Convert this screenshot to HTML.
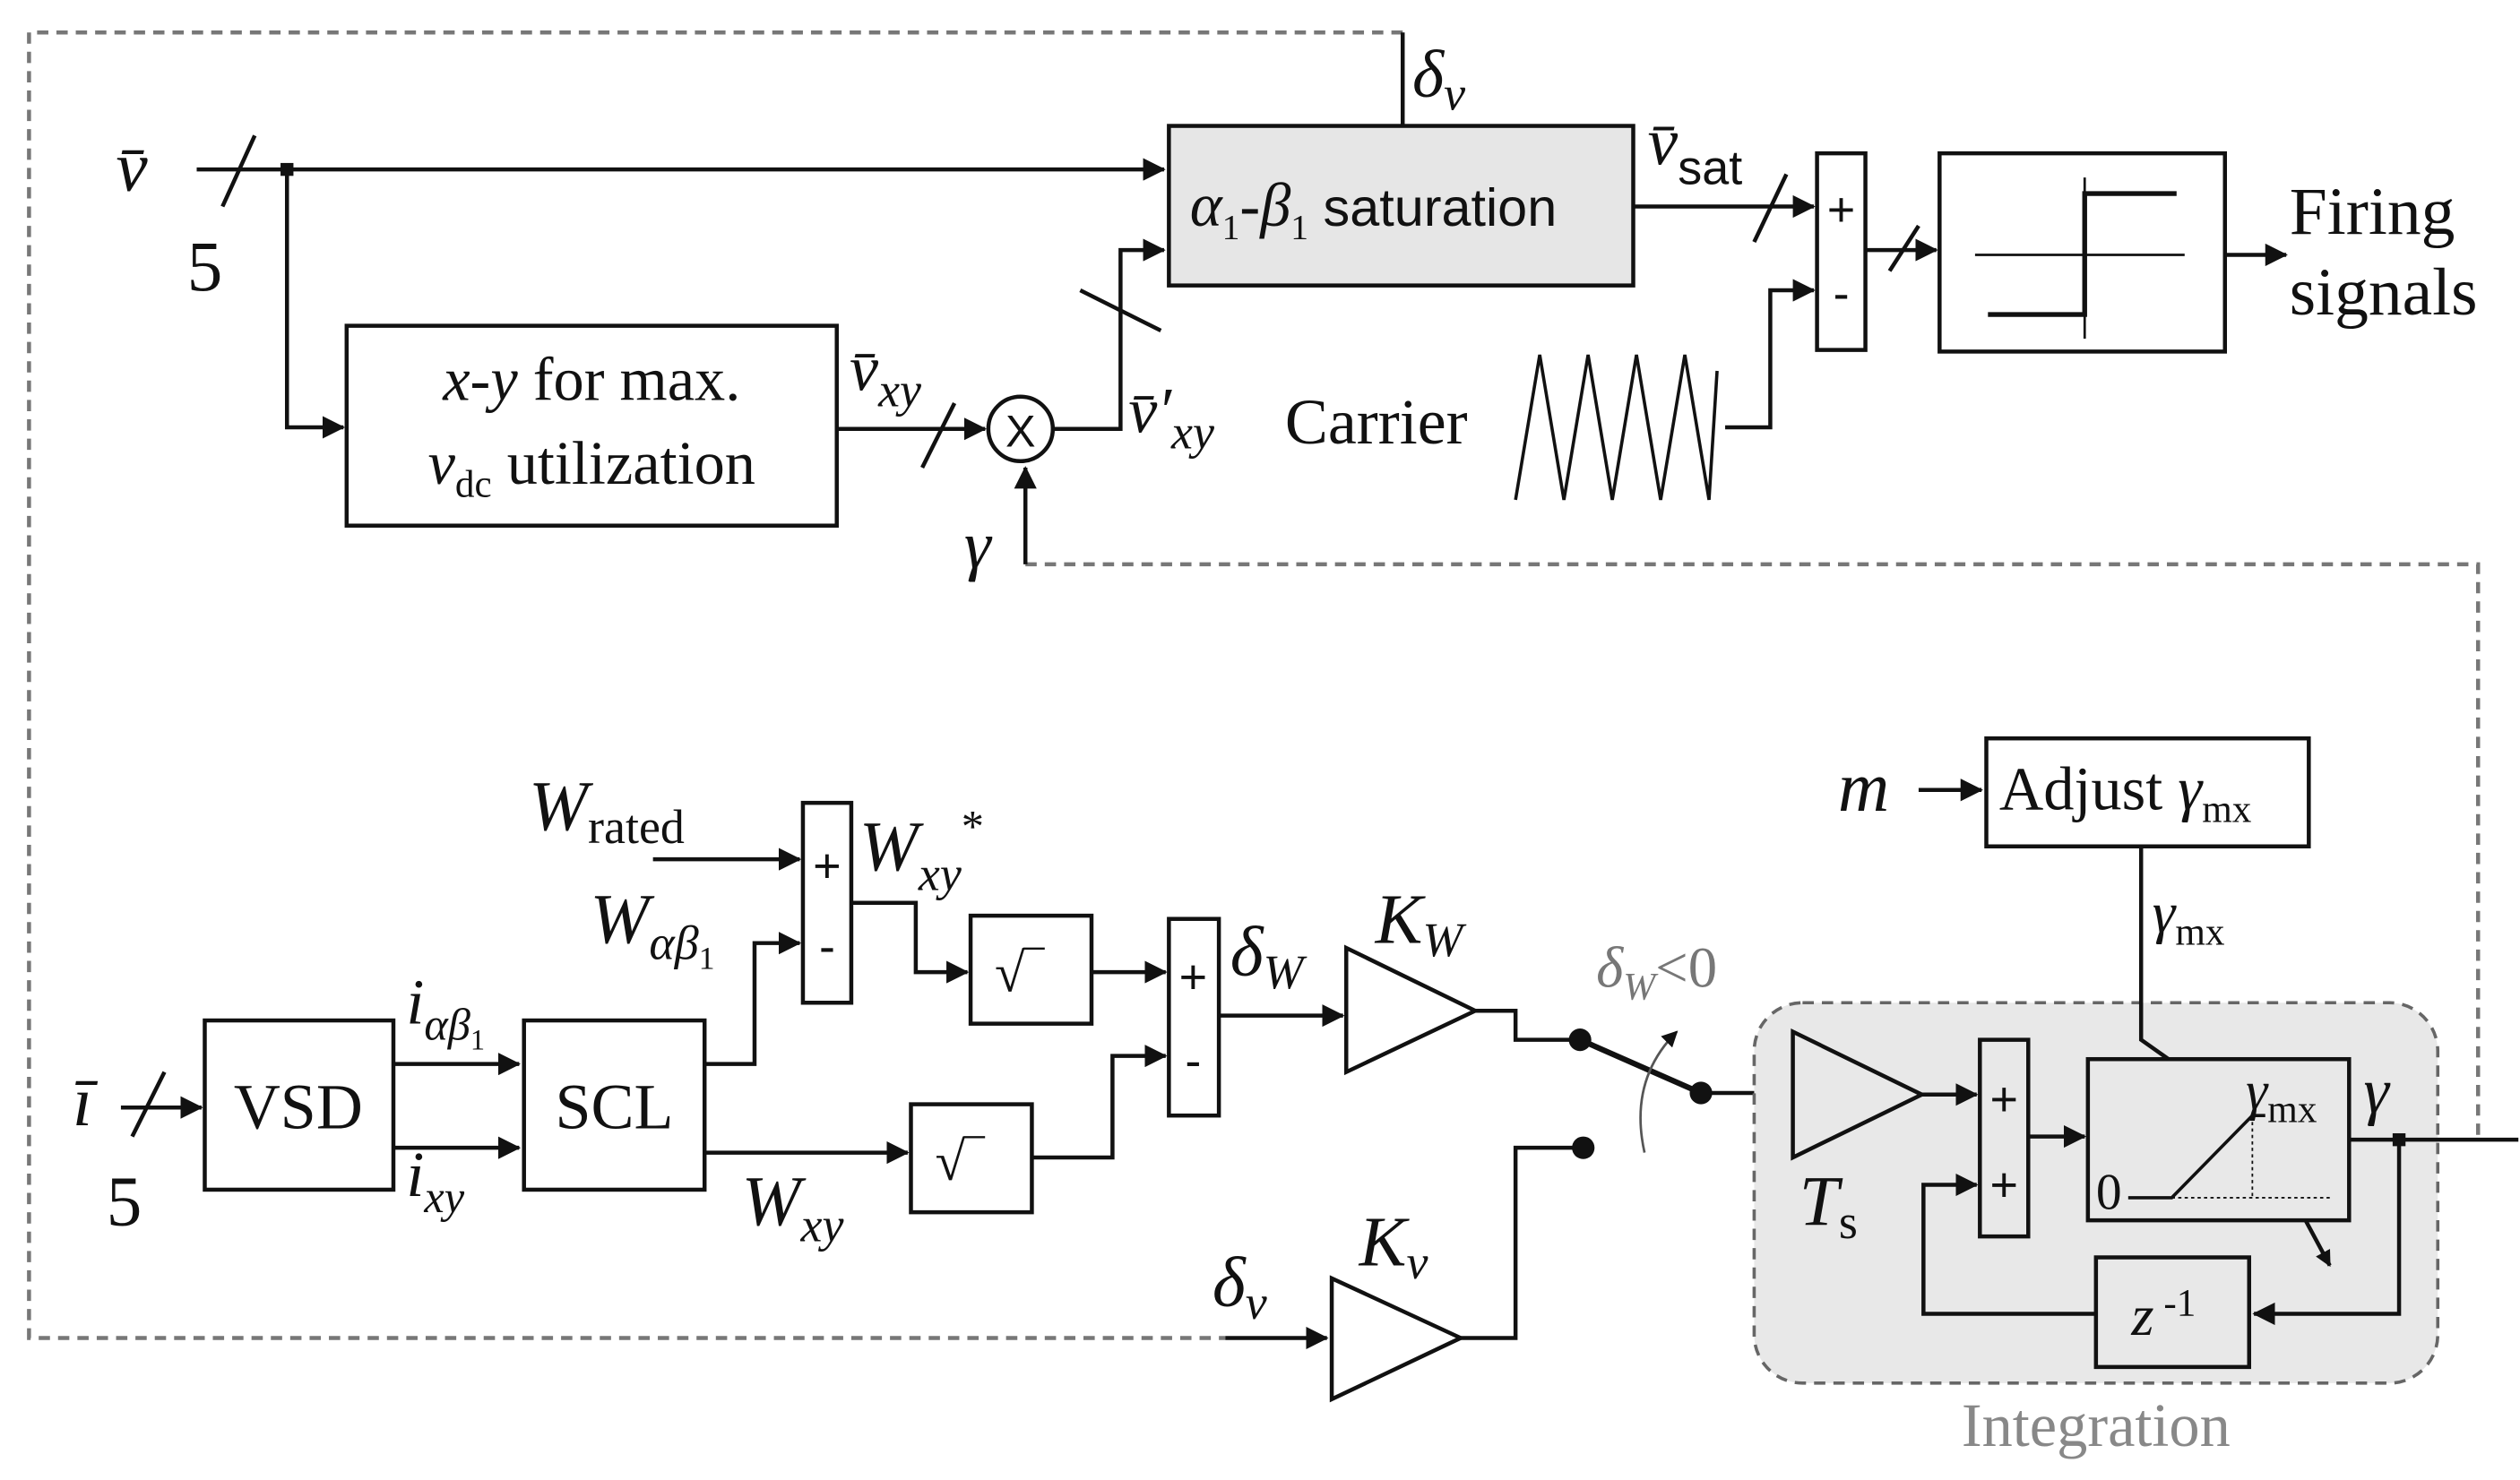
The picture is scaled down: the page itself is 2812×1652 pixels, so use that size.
<!DOCTYPE html>
<html><head><meta charset="utf-8"><style>
html,body{margin:0;padding:0;background:#fff}
svg{display:block}
text{font-family:"Liberation Serif",serif;fill:#111}
.s{font-family:"Liberation Sans",sans-serif}
.i{font-style:italic}
</style></head><body>
<svg width="2812" height="1652" viewBox="0 0 1563 918" xmlns="http://www.w3.org/2000/svg">
<defs>
<marker id="a" markerWidth="10" markerHeight="10" refX="9" refY="5" orient="auto" markerUnits="userSpaceOnUse"><path d="M0,0 L10,5 L0,10 z" fill="#111"/></marker>
<marker id="a2" markerWidth="14" markerHeight="14" refX="13" refY="7" orient="auto" markerUnits="userSpaceOnUse"><path d="M0,0 L14,7 L0,14 z" fill="#111"/></marker>
</defs>
<g stroke="#111" stroke-width="2.5" fill="none">
<path d="M870,20 H18 V830 H760" stroke="#777" stroke-dasharray="7,5"/>
<path d="M636,350 H1537 V705" stroke="#777" stroke-dasharray="7,5"/>
<path d="M870,20 V78"/>
<path d="M122,105 H722" marker-end="url(#a2)"/>
<path d="M138,128 L158,84"/>
<path d="M178,105 V265 H213" marker-end="url(#a2)"/>
<rect x="215" y="202" width="304" height="124"/>
<path d="M519,266 H611" marker-end="url(#a2)"/>
<path d="M572,290 L592,250"/>
<circle cx="633" cy="266" r="20"/>
<path d="M653,266 H695 V155 H722" marker-end="url(#a2)"/>
<path d="M670,180 L720,205"/>
<path d="M636,350 V290" marker-end="url(#a2)"/>
<rect x="725" y="78" width="288" height="99" fill="#e6e6e6"/>
<path d="M1013,128 H1125" marker-end="url(#a2)"/>
<path d="M1088,150 L1108,108"/>
<rect x="1127" y="95" width="30" height="122"/>
<path d="M940,310 L955,220 L970,310 L985,220 L1000,310 L1015,220 L1030,310 L1045,220 L1060,310 L1065,230" stroke-width="2"/>
<path d="M1070,265 H1098 V180 H1125" marker-end="url(#a2)"/>
<path d="M1157,155 H1201" marker-end="url(#a2)"/>
<path d="M1172,168 L1190,140"/>
<rect x="1203" y="95" width="177" height="123"/>
<path d="M1225,158 H1355 M1293,110 V210" stroke-width="1.5"/>
<path d="M1233,195 H1293 V120 H1350" stroke-width="3"/>
<path d="M1380,158 H1418" marker-end="url(#a2)"/>
<path d="M75,687 H125" marker-end="url(#a2)"/>
<path d="M82,705 L102,665"/>
<rect x="127" y="633" width="117" height="105"/>
<path d="M244,660 H322" marker-end="url(#a2)"/>
<path d="M244,712 H322" marker-end="url(#a2)"/>
<rect x="325" y="633" width="112" height="105"/>
<path d="M405,533 H496" marker-end="url(#a2)"/>
<path d="M437,660 H468 V585 H496" marker-end="url(#a2)"/>
<rect x="498" y="498" width="30" height="124"/>
<path d="M528,560 H568 V603 H600" marker-end="url(#a2)"/>
<rect x="602" y="568" width="75" height="67"/>
<path d="M677,603 H723" marker-end="url(#a2)"/>
<rect x="725" y="570" width="31" height="122"/>
<path d="M437,715 H563" marker-end="url(#a2)"/>
<rect x="565" y="685" width="75" height="67"/>
<path d="M640,718 H690 V655 H723" marker-end="url(#a2)"/>
<path d="M756,630 H833" marker-end="url(#a2)"/>
<path d="M835,588 L835,665 L915,627 Z"/>
<path d="M915,627 H940 V645 H980"/>
<path d="M980,645 L1055,678" stroke-width="3.5"/>
<path d="M1055,678 H1110" marker-end="url(#a2)"/>
<rect x="1088" y="622" width="424" height="236" rx="30" fill="#e8e8e8" stroke="#666" stroke-dasharray="7,5" stroke-width="2"/>
<path d="M1020,715 Q1010,670 1040,640" stroke="#555" stroke-width="1.5" marker-end="url(#a)"/>
<path d="M1112,640 L1112,718 L1192,679 Z"/>
<path d="M1192,679 H1226" marker-end="url(#a2)"/>
<rect x="1228" y="645" width="30" height="122"/>
<path d="M1258,705 H1293" marker-end="url(#a2)"/>
<rect x="1295" y="657" width="162" height="100"/>
<path d="M1320,743 H1347 L1397,692 H1405" stroke-width="2"/>
<path d="M1347,743 H1445 M1397,692 V743" stroke-width="1" stroke-dasharray="2,2"/>
<rect x="1232" y="458" width="200" height="67"/>
<path d="M1190,490 H1229" marker-end="url(#a2)"/>
<path d="M1328,525 V645 L1345,657"/>
<path d="M1430,757 L1445,785" marker-end="url(#a)"/>
<path d="M1457,707 H1562"/>
<path d="M1488,707 V815 H1398" marker-end="url(#a2)"/>
<rect x="1300" y="780" width="95" height="68"/>
<path d="M1300,815 H1193 V735 H1226" marker-end="url(#a2)"/>
<path d="M760,830 H823" marker-end="url(#a2)"/>
<path d="M826,793 L826,868 L906,830 Z"/>
<path d="M906,830 H940 V712 H982"/>
</g>
<g fill="#111">
<rect x="174" y="101" width="8" height="8"/>
<rect x="1484" y="703" width="8" height="8"/>
<circle cx="980" cy="645" r="7"/><circle cx="1055" cy="678" r="7"/><circle cx="982" cy="712" r="7"/>
</g>
<text x="72" y="118" font-size="44" class="i">v̄</text>
<text x="116" y="180" font-size="44">5</text>
<text x="876" y="60" font-size="42" class="i">δ<tspan font-size="30" dy="8">v</tspan></text>
<text x="367" y="248" font-size="38" text-anchor="middle"><tspan class="i">x</tspan>-<tspan class="i">y</tspan> for max.</text>
<text x="367" y="300" font-size="38" text-anchor="middle"><tspan class="i">v</tspan><tspan font-size="24" dy="8">dc</tspan><tspan dy="-8"> utilization</tspan></text>
<text x="527" y="242" font-size="40" class="i">v̄<tspan font-size="30" dy="10">xy</tspan></text>
<text x="633" y="277" font-size="28" class="s" text-anchor="middle">X</text>
<text x="700" y="268" font-size="40" class="i">v̄′<tspan font-size="30" dy="10">xy</tspan></text>
<text x="598" y="352" font-size="42" class="i">γ</text>
<text x="738" y="140" font-size="38" class="i">α<tspan font-size="22" dy="8" font-style="normal">1</tspan><tspan dy="-8" font-style="normal">-</tspan>β<tspan font-size="22" dy="8" font-style="normal">1</tspan><tspan dy="-8" font-style="normal" class="s" font-size="33"> saturation</tspan></text>
<text x="1022" y="102" font-size="42" class="i">v̄<tspan font-size="30" dy="12" font-style="normal" class="s">sat</tspan></text>
<text x="1142" y="140" font-size="30" class="s" text-anchor="middle">+</text>
<text x="1142" y="192" font-size="30" class="s" text-anchor="middle">-</text>
<text x="797" y="275" font-size="40">Carrier</text>
<text x="1420" y="145" font-size="42">Firing</text>
<text x="1420" y="195" font-size="42">signals</text>
<text x="45" y="698" font-size="44" class="i">ī</text>
<text x="66" y="760" font-size="44">5</text>
<text x="185" y="700" font-size="40" text-anchor="middle">VSD</text>
<text x="381" y="700" font-size="40" text-anchor="middle">SCL</text>
<text x="252" y="635" font-size="40" class="i">i<tspan font-size="28" dy="10">αβ</tspan><tspan font-size="18" dy="6" font-style="normal">1</tspan></text>
<text x="252" y="742" font-size="40" class="i">i<tspan font-size="28" dy="10">xy</tspan></text>
<text x="328" y="515" font-size="44" class="i">W<tspan font-size="30" dy="8" font-style="normal">rated</tspan></text>
<text x="366" y="585" font-size="44" class="i">W<tspan font-size="30" dy="10">αβ</tspan><tspan font-size="20" dy="6" font-style="normal">1</tspan></text>
<text x="513" y="547" font-size="30" class="s" text-anchor="middle">+</text>
<text x="513" y="597" font-size="30" class="s" text-anchor="middle">-</text>
<text x="533" y="540" font-size="44" class="i">W<tspan font-size="30" dy="12">xy</tspan><tspan font-size="28" dy="-30" font-style="normal">*</tspan></text>
<text x="617" y="615" font-size="34">√‾</text>
<text x="580" y="732" font-size="34">√‾</text>
<text x="740" y="616" font-size="30" class="s" text-anchor="middle">+</text>
<text x="740" y="668" font-size="30" class="s" text-anchor="middle">-</text>
<text x="460" y="760" font-size="44" class="i">W<tspan font-size="30" dy="10">xy</tspan></text>
<text x="763" y="605" font-size="44" class="i">δ<tspan font-size="30" dy="8">W</tspan></text>
<text x="853" y="585" font-size="44" class="i">K<tspan font-size="30" dy="8">W</tspan></text>
<text x="990" y="612" font-size="36" class="i" style="fill:#777">δ<tspan font-size="24" dy="8">W</tspan><tspan dy="-8" font-style="normal">&lt;0</tspan></text>
<text x="1116" y="760" font-size="44" class="i">T<tspan font-size="30" dy="8" font-style="normal">s</tspan></text>
<text x="1243" y="692" font-size="30" class="s" text-anchor="middle">+</text>
<text x="1243" y="745" font-size="30" class="s" text-anchor="middle">+</text>
<text x="1300" y="750" font-size="32">0</text>
<text x="1393" y="688" font-size="34" class="i">γ<tspan font-size="24" dy="8" font-style="normal">mx</tspan></text>
<text x="1466" y="690" font-size="40" class="i">γ</text>
<text x="1240" y="502" font-size="38">Adjust <tspan class="i">γ</tspan><tspan font-size="24" dy="8">mx</tspan></text>
<text x="1140" y="503" font-size="44" class="i">m</text>
<text x="1335" y="578" font-size="36" class="i">γ<tspan font-size="24" dy="8" font-style="normal">mx</tspan></text>
<text x="1322" y="828" font-size="36" class="i">z<tspan font-size="24" dy="-12" font-style="normal"> -1</tspan></text>
<text x="752" y="810" font-size="44" class="i">δ<tspan font-size="30" dy="8">v</tspan></text>
<text x="843" y="785" font-size="44" class="i">K<tspan font-size="30" dy="8">v</tspan></text>
<text x="1300" y="897" font-size="38" text-anchor="middle" style="fill:#888">Integration</text>
</svg>
</body></html>
